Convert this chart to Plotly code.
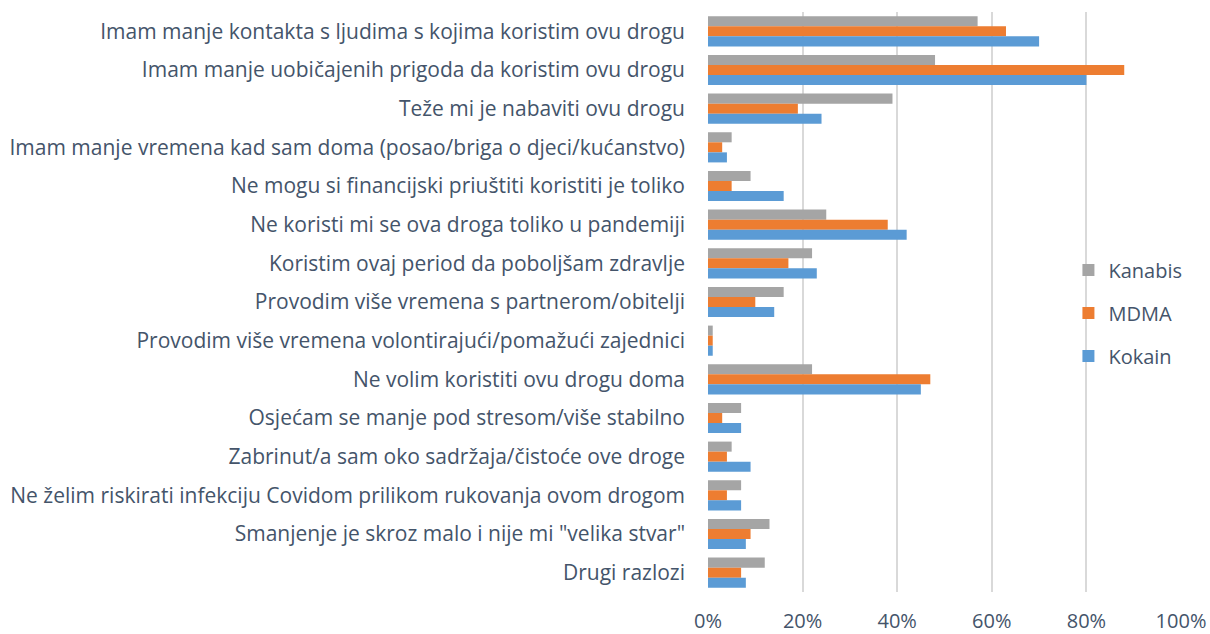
import plotly.graph_objects as go

categories = [
    "Imam manje kontakta s ljudima s kojima koristim ovu drogu",
    "Imam manje uobičajenih prigoda da koristim ovu drogu",
    "Teže mi je nabaviti ovu drogu",
    "Imam manje vremena kad sam doma (posao/briga o djeci/kućanstvo)",
    "Ne mogu si financijski priuštiti koristiti je toliko",
    "Ne koristi mi se ova droga toliko u pandemiji",
    "Koristim ovaj period da poboljšam zdravlje",
    "Provodim više vremena s partnerom/obitelji",
    "Provodim više vremena volontirajući/pomažući zajednici",
    "Ne volim koristiti ovu drogu doma",
    "Osjećam se manje pod stresom/više stabilno",
    "Zabrinut/a sam oko sadržaja/čistoće ove droge",
    "Ne želim riskirati infekciju Covidom prilikom rukovanja ovom drogom",
    "Smanjenje je skroz malo i nije mi \"velika stvar\"",
    "Drugi razlozi",
]

kanabis = [57, 48, 39, 5, 9, 25, 22, 16, 1, 22, 7, 5, 7, 13, 12]
mdma = [63, 88, 19, 3, 5, 38, 17, 10, 1, 47, 3, 4, 4, 9, 7]
kokain = [70, 80, 24, 4, 16, 42, 23, 14, 1, 45, 7, 9, 7, 8, 8]

series = [
    ("Kanabis", kanabis, "#A5A5A5"),
    ("MDMA", mdma, "#ED7D31"),
    ("Kokain", kokain, "#5B9BD5"),
]

text_color = "#44546A"
font_family = "Open Sans, sans-serif"

fig = go.Figure()
for name, vals, color in series:
    fig.add_trace(go.Bar(
        y=categories,
        x=[v / 100 for v in vals],
        name=name,
        orientation="h",
        marker=dict(color=color, line=dict(width=0)),
        legendgroup=name,
    ))

fig.update_layout(
    width=1210,
    height=634,
    margin=dict(l=708, r=29, t=12, b=42),
    paper_bgcolor="white",
    plot_bgcolor="white",
    barmode="group",
    bargap=0.22,
    bargroupgap=0,
    font=dict(family=font_family, size=20, color=text_color),
    showlegend=True,
    legend=dict(
        x=0.762, y=0.481, xanchor="left", yanchor="middle",
        font=dict(size=20, color=text_color),
        tracegroupgap=14,
        itemwidth=30,
        bgcolor="rgba(0,0,0,0)",
    ),
    xaxis=dict(
        range=[0, 1.0],
        tickvals=[0, 0.2, 0.4, 0.6, 0.8, 1.0],
        ticktext=["0%", "20%", "40%", "60%", "80%", "100%"],
        showgrid=True,
        gridcolor="#D9D9D9",
        gridwidth=2,
        zeroline=False,
        showline=False,
        ticks="",
        automargin=False,
        ticklabelstandoff=15,
        tickfont=dict(size=20, color=text_color),
    ),
    yaxis=dict(
        autorange="reversed",
        showgrid=False,
        zeroline=False,
        showline=False,
        ticks="",
        automargin=False,
        ticklabelstandoff=22,
        tickfont=dict(size=21, color=text_color),
    ),
)

fig.write_html("out.html")
